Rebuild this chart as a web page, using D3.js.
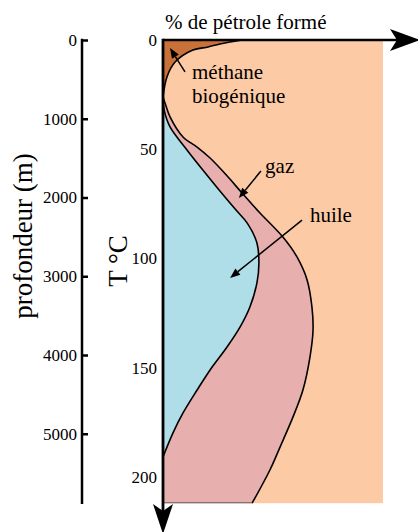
<!DOCTYPE html>
<html>
<head>
<meta charset="utf-8">
<script src="https://cdn.jsdelivr.net/npm/d3@7"></script>
<style>
  html, body { margin: 0; padding: 0; background: #fff; }
  svg { display: block; }
  svg text { font-family: "Liberation Serif", "DejaVu Serif", serif; }
</style>
</head>
<body>
<svg id="chart" width="418" height="532"></svg>
<script>
// Temperature (°C) versus cumulative share of hydrocarbons formed (%)
const tempTicks = [0, 50, 100, 150, 200];
const depthTicks = [0, 1000, 2000, 3000, 4000, 5000];

// Biogenic methane boundary: [percent, temperature]
const methaneCurve = [
  [35.9, 0], [25.9, 1.8], [20.5, 3.2], [13.6, 4.6], [5.5, 10.1], [1.8, 16.9], [0, 26.1]
];
// Gas window upper edge (gas / rest)
const gasCurve = [
  [0, 26.1], [0.9, 28.8], [3.2, 35.2], [9.1, 44.4], [15.5, 49.0], [21.4, 54.0],
  [28.8, 61.8], [35.9, 70.0], [44.1, 79.2], [54.5, 90.2], [60.9, 99.3],
  [65.5, 109.8], [67.7, 122.2], [68.2, 132.7], [66.8, 145.1], [63.6, 160.2],
  [59.1, 172.5], [53.2, 186.3], [48.6, 196.8], [40.5, 212]
];
// Oil window edge (oil / gas)
const oilCurve = [
  [0, 27.5], [0.5, 32.0], [3.2, 39.8], [10.9, 50.3], [17.0, 58.1], [25.5, 68.6],
  [33.2, 77.8], [38.3, 83.8], [42.7, 92.9], [43.6, 102.1], [42.7, 111.2],
  [39.5, 122.2], [35.0, 131.4], [29.1, 140.5], [21.4, 151.0], [15.5, 160.2],
  [9.1, 170.7], [4.5, 179.9], [0, 190.8]
];

const labels = ["méthane", "biogénique", "gaz", "huile"];
const titleText = "% de pétrole formé";
const depthTitle = "profondeur (m)";
const tempTitle = "T °C";

const colors = {
  rest: "#fdcaa6",
  methane: "#c8723a",
  gas: "#e8afaf",
  oil: "#afdee9"
};
const serif = "Liberation Serif";

const svg = d3.select("#chart");

const x = d3.scaleLinear().domain([0, 100]).range([163, 383]);
const y = d3.scaleLinear().domain([0, 200]).range([40, 477]);
const yDepth = d3.scaleLinear().domain([0, 5000]).range([40, 433.75]);
const tMax = 212;

const line = d3.line()
  .x(d => x(d[0]))
  .y(d => y(d[1]))
  .curve(d3.curveCatmullRom.alpha(0.5));

// Background region
svg.append("rect")
  .attr("x", x(0)).attr("y", y(0))
  .attr("width", x(100) - x(0)).attr("height", y(tMax) - y(0))
  .attr("fill", colors.rest);

// Biogenic methane
svg.append("path")
  .attr("d", line(methaneCurve) + `L${x(0)},${y(0)}Z`)
  .attr("fill", colors.methane);

// Gas
svg.append("path")
  .attr("d", line(gasCurve) + `L${x(0)},${y(tMax)}Z`)
  .attr("fill", colors.gas);

// Oil
svg.append("path")
  .attr("d", line(oilCurve) + "Z")
  .attr("fill", colors.oil);

// Boundaries
[methaneCurve, gasCurve, oilCurve].forEach(c => {
  svg.append("path")
    .attr("d", line(c))
    .attr("fill", "none")
    .attr("stroke", "#000")
    .attr("stroke-width", 1.6);
});
svg.append("line")
  .attr("x1", x(0)).attr("x2", x(gasCurve[gasCurve.length - 1][0]))
  .attr("y1", y(tMax) - 0.5).attr("y2", y(tMax) - 0.5)
  .attr("stroke", "#666").attr("stroke-width", 1);

// Temperature axis (labels only) and its axis lines with arrowheads
const tAxis = svg.append("g")
  .attr("transform", `translate(${x(0) - 2},0)`)
  .call(d3.axisLeft(y).tickValues(tempTicks).tickSize(0).tickPadding(4));
tAxis.attr("font-family", serif).attr("font-size", 17);
tAxis.select(".domain").remove();
tAxis.selectAll("text")
  .attr("font-family", serif).attr("font-size", 17).attr("fill", "#000");

svg.append("line")
  .attr("x1", x(0)).attr("x2", 400)
  .attr("y1", y(0)).attr("y2", y(0))
  .attr("stroke", "#000").attr("stroke-width", 2.5);
svg.append("line")
  .attr("x1", x(0)).attr("x2", x(0))
  .attr("y1", y(0) - 1.2).attr("y2", 515)
  .attr("stroke", "#000").attr("stroke-width", 2.8);

// Arrowheads
const ax = x(0), ay = y(0);
svg.append("path")
  .attr("d", `M420,${ay} L390,${ay - 11} L397,${ay} L390,${ay + 11} Z`)
  .attr("fill", "#000");
svg.append("path")
  .attr("d", `M${ax},534 L${ax - 10},504 L${ax},511 L${ax + 10},504 Z`)
  .attr("fill", "#000");

// Depth axis
const dAxis = svg.append("g")
  .attr("transform", "translate(82,0)")
  .call(d3.axisRight(yDepth).tickValues(depthTicks).tickSize(6).tickFormat(d3.format("d")));
dAxis.attr("font-family", serif).attr("font-size", 17);
dAxis.select(".domain").remove();
dAxis.selectAll(".tick line").attr("stroke", "#000").attr("stroke-width", 2.5);
dAxis.selectAll("text")
  .attr("x", -5)
  .attr("text-anchor", "end")
  .attr("font-family", serif).attr("font-size", 17).attr("fill", "#000");
svg.append("line")
  .attr("x1", 82).attr("x2", 82)
  .attr("y1", yDepth(0) - 1.2).attr("y2", 504)
  .attr("stroke", "#000").attr("stroke-width", 2.5);

// Titles
svg.append("text")
  .attr("x", 165).attr("y", 29)
  .attr("font-family", serif)
  .attr("font-size", 21)
  .text(titleText);

svg.append("text")
  .attr("transform", "translate(32,236) rotate(-90)")
  .attr("text-anchor", "middle")
  .attr("font-family", serif)
  .attr("font-size", 27)
  .text(depthTitle);

svg.append("text")
  .attr("transform", "translate(127,261) rotate(-90)")
  .attr("text-anchor", "middle")
  .attr("font-family", serif)
  .attr("font-size", 27)
  .text(tempTitle);

// Annotations (anchors in percent / °C)
const notes = [
  { text: labels[0], at: [13.2, 17.8] },
  { text: labels[1], at: [13.2, 28.8] },
  { text: labels[2], at: [46.4, 60.9] },
  { text: labels[3], at: [66.8, 83.3] }
];
svg.selectAll("text.note")
  .data(notes).join("text")
  .attr("class", "note")
  .attr("x", d => x(d.at[0])).attr("y", d => y(d.at[1]))
  .attr("font-family", serif)
  .attr("font-size", 21)
  .text(d => d.text);

const pointers = [
  { from: [10.0, 14.6], to: [3.2, 3.7] },
  { from: [44.5, 60.0], to: [34.5, 72.3] },
  { from: [63.2, 82.4], to: [30.5, 108.9] }
];
pointers.forEach(p => {
  const x1 = x(p.from[0]), y1 = y(p.from[1]);
  const x2 = x(p.to[0]), y2 = y(p.to[1]);
  const ang = Math.atan2(y2 - y1, x2 - x1);
  const len = 10, half = 4;
  const bx = x2 - len * Math.cos(ang), by = y2 - len * Math.sin(ang);
  svg.append("line")
    .attr("x1", x1).attr("y1", y1).attr("x2", bx).attr("y2", by)
    .attr("stroke", "#000").attr("stroke-width", 1.5);
  svg.append("path")
    .attr("d", `M${x2},${y2} L${bx - half * Math.sin(ang)},${by + half * Math.cos(ang)} L${bx + half * Math.sin(ang)},${by - half * Math.cos(ang)} Z`)
    .attr("fill", "#000");
});
</script>
</body>
</html>
